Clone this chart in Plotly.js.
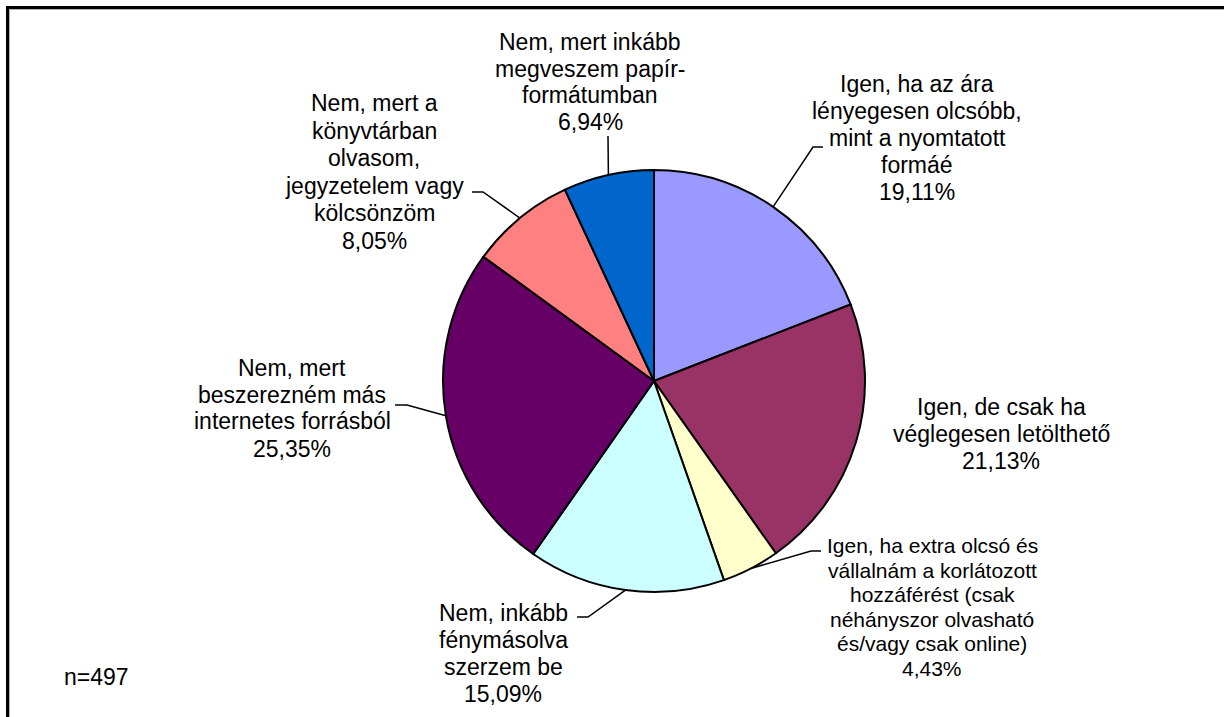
<!DOCTYPE html>
<html><head><meta charset="utf-8">
<script src="https://cdn.plot.ly/plotly-3.0.1.min.js"></script>
<style>html,body{margin:0;padding:0;background:#fff;}#chart{width:1224px;height:717px;}</style>
</head><body><div id="chart"></div>
<script>
// ---- data ----
const categories = [
  "Igen, ha az ára<br>lényegesen olcsóbb,<br>mint a nyomtatott<br>formáé",
  "Igen, de csak ha<br>véglegesen letölthető",
  "Igen, ha extra olcsó és<br>vállalnám a korlátozott<br>hozzáférést (csak<br>néhányszor olvasható<br>és/vagy csak online)",
  "Nem, inkább<br>fénymásolva<br>szerzem be",
  "Nem, mert<br>beszerezném más<br>internetes forrásból",
  "Nem, mert a<br>könyvtárban<br>olvasom,<br>jegyzetelem vagy<br>kölcsönzöm",
  "Nem, mert inkább<br>megveszem papír-<br>formátumban"
];
const values = [19.11, 21.13, 4.43, 15.09, 25.35, 8.05, 6.94];
const sliceColors = ["#9999FF", "#993366", "#FFFFCC", "#CCFFFF", "#660066", "#FF8080", "#0066CC"];
const sampleNote = "n=497";

// ---- layout (pixels) ----
const W = 1224, H = 717;
const PIE = {cx: 654, cy: 381, r: 211};
const labelPos = [
  {cx: 917, cy: 138, size: 23, gap: 27, elbow: [[823,147],[813,147]]},
  {cx: 1001, cy: 434, size: 23, gap: 27, elbow: null},
  {cx: 932, cy: 607, size: 21, gap: 24.6, elbow: [[821,551],[811,551]]},
  {cx: 503, cy: 653, size: 23, gap: 27, elbow: [[577,617],[588,617]]},
  {cx: 292, cy: 408, size: 23, gap: 27, elbow: [[395,405],[407,405]]},
  {cx: 374, cy: 172, size: 23, gap: 27.5, elbow: [[472,192],[483,192]]},
  {cx: 590, cy: 82, size: 23, gap: 26.7, elbow: [[608,136]]}
];
const FONT = "Liberation Sans, Arial, sans-serif";
const px = x => x / W, py = y => 1 - y / H;

const total = values.reduce((a, b) => a + b, 0);
let cum = 0;
const annotations = [], shapes = [];
values.forEach((v, i) => {
  const mid = (cum + v / 2) / total; cum += v;
  const th = 2 * Math.PI * mid;
  const ex = PIE.cx + PIE.r * Math.sin(th), ey = PIE.cy - PIE.r * Math.cos(th);
  const L = labelPos[i];
  const lines = (categories[i] + "<br>" + v.toFixed(2).replace(".", ",") + "%").split("<br>");
  lines.forEach((t, k) => {
    annotations.push({
      xref: "paper", yref: "paper", x: px(L.cx), y: py(L.cy + (k - (lines.length - 1) / 2) * L.gap),
      xanchor: "center", yanchor: "middle", align: "center", showarrow: false,
      text: t, font: {family: FONT, size: L.size, color: "#000"}
    });
  });
  if (L.elbow) {
    const pts = L.elbow.concat([[ex, ey]]);
    const d = pts.map((p, k) => (k ? "L" : "M") + px(p[0]).toFixed(5) + "," + py(p[1]).toFixed(5)).join(" ");
    shapes.push({type: "path", xref: "paper", yref: "paper", path: d, line: {color: "#000", width: 1.5}});
  }
});
annotations.push({xref: "paper", yref: "paper", x: px(62), y: py(677), xanchor: "left", yanchor: "middle",
  showarrow: false, text: sampleNote, font: {family: FONT, size: 23, color: "#000"}});

// frame (top & left edges visible)
shapes.push({type: "line", xref: "paper", yref: "paper", x0: px(6), x1: px(1230), y0: py(7.5), y1: py(7.5), line: {color: "#000", width: 3}});
shapes.push({type: "line", xref: "paper", yref: "paper", x0: px(7.5), x1: px(7.5), y0: py(6), y1: py(730), line: {color: "#000", width: 3}});
shapes.push({type: "line", xref: "paper", yref: "paper", x0: px(9), x1: px(1230), y0: py(9.5), y1: py(9.5), line: {color: "#b0b0b0", width: 1}});
shapes.push({type: "line", xref: "paper", yref: "paper", x0: px(9.5), x1: px(9.5), y0: py(9), y1: py(730), line: {color: "#b0b0b0", width: 1}});

const trace = {
  type: "pie", values: values, labels: categories,
  marker: {colors: sliceColors, line: {color: "#000", width: 2}},
  sort: false, direction: "clockwise", rotation: 0,
  textinfo: "none", hoverinfo: "none", showlegend: false,
  domain: {x: [px(PIE.cx - PIE.r), px(PIE.cx + PIE.r)], y: [py(PIE.cy + PIE.r), py(PIE.cy - PIE.r)]}
};
Plotly.newPlot("chart", [trace], {
  width: W, height: H, margin: {l: 0, r: 0, t: 0, b: 0},
  paper_bgcolor: "#fff", plot_bgcolor: "#fff", showlegend: false,
  annotations: annotations, shapes: shapes
}, {staticPlot: true});
</script></body></html>
